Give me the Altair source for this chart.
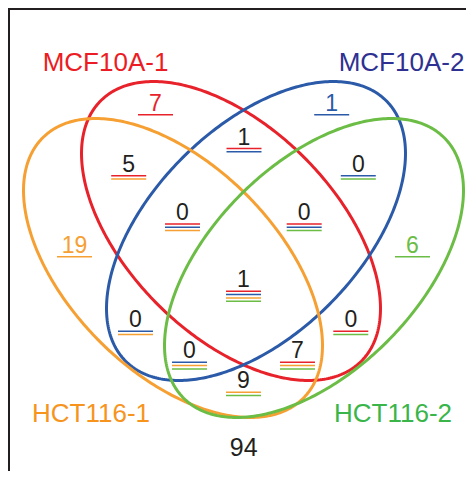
import numpy as np
import pandas as pd
import altair as alt

# ---- data ----
set_names = ["MCF10A-1", "MCF10A-2", "HCT116-1", "HCT116-2"]
set_keys = ["R", "B", "O", "G"]
set_colors = ["#e8222b", "#2b5aa8", "#f6a033", "#6bbd45"]
label_colors = ["#ec1c24", "#2e3192", "#f7941d", "#39b54a"]

# membership of each region (R=MCF10A-1, B=MCF10A-2, O=HCT116-1, G=HCT116-2)
region_members = ["R", "B", "RB", "RO", "BG", "RBO", "RBG", "O", "G",
                  "RBOG", "BO", "RG", "BOG", "ROG", "OG", ""]
region_counts = [7, 1, 1, 5, 0, 0, 0, 19, 6, 1, 0, 0, 0, 7, 9, 94]

# ---- layout (reference pixel coordinates) ----
region_x = [155.5, 331.7, 244, 128.7, 358.3, 182.5, 304.2, 74.5, 412.5,
            243.5, 135.5, 350.8, 189.5, 297.5, 243.5, 243.7]
region_y = [110.7, 110.7, 144.5, 171.7, 171.7, 220, 220, 252.7, 252.7,
            287.3, 327.2, 327.2, 358.3, 358.3, 388.3, 456]
label_x = [105.5, 401.5, 91, 393]
label_y = [70.7, 70.7, 422, 422]
ell_cx = [231, 256, 173, 314]
ell_cy = [231, 231, 268, 268]
ell_angle = [45, -45, 45, -45]
SEMI_A, SEMI_B = 184.2, 103.75

W, H = 458, 463
xs = alt.Scale(domain=[8, 8 + W], nice=False, zero=False)
ys = alt.Scale(domain=[8, 8 + H], nice=False, zero=False, reverse=True)
X = lambda f: alt.X(f, type="quantitative", scale=xs, axis=None)
Y = lambda f: alt.Y(f, type="quantitative", scale=ys, axis=None)

layers = []

# frame (left and top edges)
one = pd.DataFrame({"a": [0]})
layers.append(alt.Chart(one).mark_rule(color="#231f20", strokeWidth=2).encode(
    x=alt.value(1), y=alt.value(0), y2=alt.value(H)))
layers.append(alt.Chart(one).mark_rule(color="#231f20", strokeWidth=2).encode(
    x=alt.value(0), x2=alt.value(W), y=alt.value(1)))

# ellipses
t = np.linspace(0, 2 * np.pi, 361)
for i in range(4):
    phi = np.deg2rad(ell_angle[i])
    ex = ell_cx[i] + SEMI_A * np.cos(t) * np.cos(phi) - SEMI_B * np.sin(t) * np.sin(phi)
    ey = ell_cy[i] + SEMI_A * np.cos(t) * np.sin(phi) + SEMI_B * np.sin(t) * np.cos(phi)
    df = pd.DataFrame({"x": ex, "y": ey, "o": np.arange(len(t))})
    layers.append(alt.Chart(df).mark_line(color=set_colors[i], strokeWidth=3).encode(
        x=X("x"), y=Y("y"), order="o:Q"))

# counts
key_color = dict(zip(set_keys, set_colors))
txt_rows, line_rows = [], []
for m, c, x, y in zip(region_members, region_counts, region_x, region_y):
    col = key_color[m] if len(m) == 1 else "#231f20"
    txt_rows.append({"x": x, "y": y, "t": str(c), "c": col, "s": 25 if m == "" else 23})
    for k, ch in enumerate(m):
        line_rows.append({"x": x - 17.5, "x2": x + 17.5, "y": y + 4.0 + 3.3 * k,
                          "c": key_color[ch]})
tdf = pd.DataFrame(txt_rows)
ldf = pd.DataFrame(line_rows)

layers.append(alt.Chart(ldf).mark_rule(strokeWidth=1.5).encode(
    x=X("x"), x2="x2:Q", y=Y("y"), color=alt.Color("c:N", scale=None)))
layers.append(alt.Chart(tdf).mark_text(font="Liberation Sans", baseline="alphabetic",
                                       align="center").encode(
    x=X("x"), y=Y("y"), text="t:N", color=alt.Color("c:N", scale=None),
    size=alt.Size("s:Q", scale=None)))

# set labels
sdf = pd.DataFrame({"x": label_x, "y": label_y, "t": set_names, "c": label_colors})
layers.append(alt.Chart(sdf).mark_text(font="Liberation Sans", baseline="alphabetic",
                                       align="center", fontSize=26).encode(
    x=X("x"), y=Y("y"), text="t:N", color=alt.Color("c:N", scale=None)))

chart = alt.layer(*layers).properties(
    width=W, height=H, padding=0,
    autosize=alt.AutoSizeParams(type="none"),
    background="white",
).configure_view(strokeWidth=0)

chart.save("out.html", embed_options={"renderer": "svg", "actions": False})
